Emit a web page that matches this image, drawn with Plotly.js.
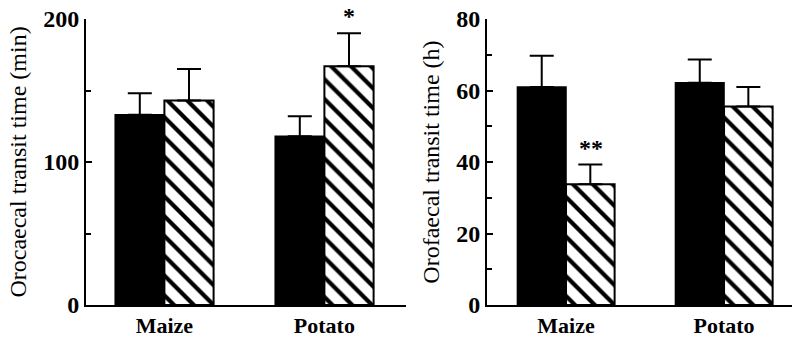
<!DOCTYPE html>
<html>
<head>
<meta charset="utf-8">
<script src="https://cdn.plot.ly/plotly-3.0.1.min.js"></script>
<style>html,body{margin:0;padding:0;background:#fff;}#chart{width:796px;height:338px;}</style>
</head>
<body>
<div id="chart"></div>
<script>
// ---- data ----
const categories = ["Maize", "Potato"];
// Left panel: orocaecal transit time (min)
const orocaecalSolid = [133, 118];
const orocaecalSolidErr = [15, 14];
const orocaecalHatched = [143, 167];
const orocaecalHatchedErr = [22, 23];
const orocaecalStars = ["", "*"];
// Right panel: orofaecal transit time (h)
const orofaecalSolid = [61, 62.2];
const orofaecalSolidErr = [8.7, 6.5];
const orofaecalHatched = [33.8, 55.5];
const orofaecalHatchedErr = [5.5, 5.5];
const orofaecalStars = ["**", ""];
const leftTicks = [0, 100, 200];
const rightTicks = [0, 20, 40, 60, 80];

const FONT = "Liberation Serif, Times New Roman, serif";

function errObj(arr) {
  return {type: "data", array: arr, arrayminus: arr.map(() => 0), symmetric: false,
          color: "#000", thickness: 2, width: 12};
}
function solidTrace(y, e, xa, ya) {
  return {type: "bar", x: categories, y: y, xaxis: xa, yaxis: ya,
    marker: {color: "#000", line: {color: "#000", width: 1.5}},
    error_y: errObj(e), showlegend: false, hoverinfo: "skip"};
}
function hatchTrace(y, e, xa, ya) {
  return {type: "bar", x: categories, y: y, xaxis: xa, yaxis: ya,
    marker: {color: "#fff", line: {color: "#000", width: 2},
      pattern: {shape: "\\", size: 14, solidity: 0.3, fgcolor: "#000", bgcolor: "#fff", fillmode: "replace"}},
    error_y: errObj(e), showlegend: false, hoverinfo: "skip"};
}

const data = [
  solidTrace(orocaecalSolid, orocaecalSolidErr, "x", "y"),
  hatchTrace(orocaecalHatched, orocaecalHatchedErr, "x", "y"),
  solidTrace(orofaecalSolid, orofaecalSolidErr, "x2", "y2"),
  hatchTrace(orofaecalHatched, orofaecalHatchedErr, "x2", "y2")
];

const annotations = [];
function addStars(stars, vals, errs, xref, yref, idxShift) {
  stars.forEach((s, i) => {
    if (!s) return;
    annotations.push({xref: xref, yref: yref, x: i + idxShift, y: vals[i] + errs[i],
      text: s, showarrow: false, yanchor: "bottom", yshift: 2,
      font: {family: FONT, size: 24, color: "#000", weight: "bold"}});
  });
}
// hatched bar sits in the right half of each group
addStars(orocaecalStars, orocaecalHatched, orocaecalHatchedErr, "x", "y", 0.155);
addStars(orofaecalStars, orofaecalHatched, orofaecalHatchedErr, "x2", "y2", 0.155);

const W = 796, H = 338;
function yax(range, ticks, minorD, anchor) {
  return {range: range, domain: [33 / H, 319 / H], anchor: anchor,
    tickvals: ticks, ticks: "inside", ticklen: 6, tickwidth: 2, tickcolor: "#000",
    minor: {dtick: minorD, ticks: "inside", ticklen: 5, tickwidth: 2, tickcolor: "#000", showgrid: false},
    showline: true, linecolor: "#000", linewidth: 2, showgrid: false, zeroline: false,
    tickfont: {family: FONT, size: 24, color: "#000", weight: "bold"}};
}
function xax(range, domain, anchor) {
  return {type: "category", range: range, domain: domain, anchor: anchor,
    showline: true, linecolor: "#000", linewidth: 2, ticks: "", showgrid: false, zeroline: false,
    ticklabelstandoff: 0,
    tickfont: {family: FONT, size: 22, color: "#000", weight: "bold"}};
}

const layout = {
  width: W, height: H, margin: {l: 0, r: 0, t: 0, b: 0},
  paper_bgcolor: "#fff", plot_bgcolor: "#fff",
  barmode: "group", bargap: 0.385, bargroupgap: 0,
  font: {family: FONT, color: "#000"},
  xaxis: xax([-0.49, 1.51], [86 / W, 406 / W], "y"),
  yaxis: Object.assign(yax([0, 200], leftTicks, 50, "x"),
    {title: {text: "Orocaecal transit time (min)", font: {family: FONT, size: 24, color: "#000"}, standoff: 10}}),
  xaxis2: xax([-0.5, 1.43], [487 / W, 792 / W], "y2"),
  yaxis2: Object.assign(yax([0, 80], rightTicks, 10, "x2"),
    {title: {text: "Orofaecal transit time (h)", font: {family: FONT, size: 24, color: "#000"}, standoff: 10}}),
  annotations: annotations
};

Plotly.newPlot("chart", data, layout, {staticPlot: true, displayModeBar: false});
</script>
</body>
</html>
